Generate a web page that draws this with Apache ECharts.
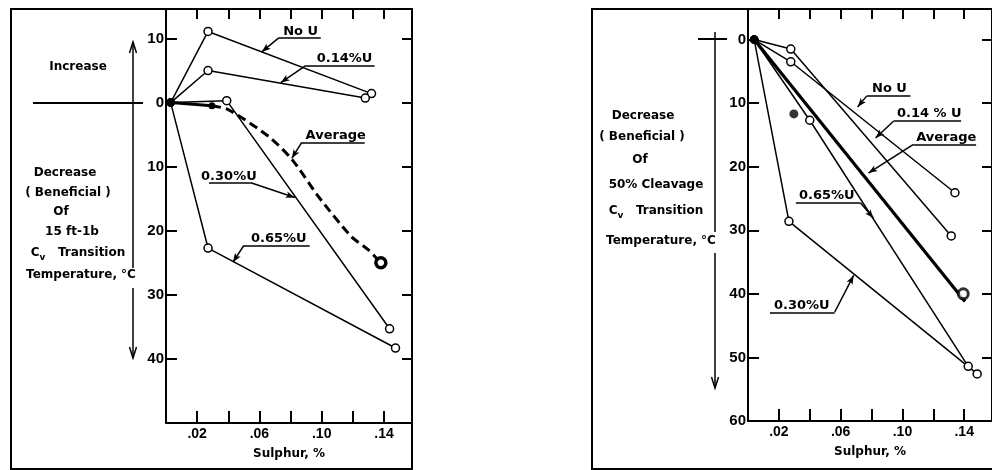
<!DOCTYPE html>
<html><head><meta charset="utf-8">
<script src="https://cdn.jsdelivr.net/npm/echarts@6/dist/echarts.min.js"></script>
<style>html,body{margin:0;padding:0;background:#fff}#c{width:992px;height:470px}</style>
</head><body><div id="c"></div>
<script>
// ---------- data ----------
const sulphurTicks = [0.02, 0.04, 0.06, 0.08, 0.10, 0.12, 0.14];
const sulphurLabels = [0.02, 0.06, 0.10, 0.14];
const leftYLabels = [-10, 0, 10, 20, 30, 40];
const rightYLabels = [0, 10, 20, 30, 40, 50, 60];
const rightYSideTicks = [0, 10, 20, 30, 40, 50];

// Left: decrease of 15 ft-lb Cv transition temperature, degC (negative = increase)
const L_noU   = [[0.003, 0], [0.027, -11.1], [0.132, -1.4]];
const L_u014  = [[0.003, 0], [0.027, -5.0], [0.128, -0.7]];
const L_u030  = [[0.003, 0], [0.039, -0.3], [0.1436, 35.3]];
const L_u065  = [[0.003, 0], [0.027, 22.7], [0.1474, 38.3]];
const L_avgStart = [[0.003, 0], [0.0295, 0.5]];
const L_avg   = [[0.0295, 0.5], [0.040, 1.1], [0.066, 5.3], [0.081, 8.9], [0.098, 14.7], [0.119, 20.9], [0.130, 23.0], [0.138, 25.0]];

// Right: decrease of 50% cleavage Cv transition temperature, degC
const R_noU   = [[0.004, 0], [0.0277, 3.5], [0.134, 24.1]];
const R_u014  = [[0.004, 0], [0.0277, 1.5], [0.1316, 30.9]];
const R_u030  = [[0.004, 0], [0.0265, 28.6], [0.1484, 52.6]];
const R_u065  = [[0.004, 0], [0.040, 12.7], [0.1426, 51.4]];
const R_avg   = [[0.004, 0], [0.1405, 41.2]];
const R_avgPts = [[0.0297, 11.7], [0.1394, 40.0]];

// annotation labels: text, text centre, underline, leader -> arrow tip (data units)
const leftNotes = [
  {t: 'No U',   tx: 0.0865, ty: -11.1, u: [0.0724, 0.0994, -10.1], from: [0.0724, -10.1], to: [0.0615, -7.9]},
  {t: '0.14%U', tx: 0.1147, ty: -6.8,  u: [0.0897, 0.134, -5.76],  from: [0.0897, -5.76], to: [0.0737, -3.1]},
  {t: 'Average',tx: 0.109,  ty: 5.1,   u: [0.0872, 0.1276, 6.2],   from: [0.0872, 6.2],   to: [0.0808, 8.7]},
  {t: '0.30%U', tx: 0.0404, ty: 11.5,  u: [0.0276, 0.0545, 12.5],  from: [0.0545, 12.5],  to: [0.0827, 14.8]},
  {t: '0.65%U', tx: 0.0724, ty: 21.3,  u: [0.050, 0.0923, 22.3],   from: [0.050, 22.3],   to: [0.043, 24.9]}
];
const rightNotes = [
  {t: 'No U',    tx: 0.0916, ty: 7.7,  u: [0.0768, 0.1052, 8.9],  from: [0.0768, 8.9],  to: [0.071, 10.6]},
  {t: '0.14 % U',tx: 0.1174, ty: 11.6, u: [0.0942, 0.138, 12.85], from: [0.0942, 12.85], to: [0.0826, 15.5]},
  {t: 'Average', tx: 0.1284, ty: 15.4, u: [0.1071, 0.1477, 16.5], from: [0.1071, 16.5], to: [0.078, 21.0]},
  {t: '0.65%U',  tx: 0.051,  ty: 24.6, u: [0.031, 0.0729, 25.7],  from: [0.0729, 25.7], to: [0.0813, 28.1]},
  {t: '0.30%U',  tx: 0.0348, ty: 41.8, u: [0.0142, 0.0561, 42.9], from: [0.0561, 42.9], to: [0.0684, 37.1]}
];

// ---------- styling ----------
const FONT = '"DejaVu Sans", sans-serif';
const NUMFONT = '"Liberation Sans", Arial, sans-serif';
const BLACK = '#000';
const xMax = 0.158;
const yRanges = [[-14.6, 50], [-4.8, 60]];
const fmtS = v => '.' + String(Math.round(v * 100)).padStart(2, '0');

const chart = echarts.init(document.getElementById('c'), null, {renderer: 'canvas'});

function xAxes(g) {
  const line = {onZero: false, lineStyle: {color: BLACK, width: 2}};
  return [
    {gridIndex: g, type: 'value', position: 'bottom', min: 0, max: xMax,
     axisLine: line,
     axisTick: {inside: true, length: 12, customValues: sulphurTicks, lineStyle: {color: BLACK, width: 2}},
     axisLabel: {customValues: sulphurLabels, formatter: fmtS, color: BLACK, fontFamily: NUMFONT, fontWeight: 'bold', fontSize: 14, margin: 4},
     splitLine: {show: false},
     name: 'Sulphur, %', nameLocation: 'middle', nameGap: 25,
     nameTextStyle: {color: BLACK, fontFamily: FONT, fontWeight: 'bold', fontSize: 12}},
    {gridIndex: g, type: 'value', position: 'top', min: 0, max: xMax,
     axisLine: line,
     axisTick: {inside: true, length: 10, customValues: sulphurTicks, lineStyle: {color: BLACK, width: 2}},
     axisLabel: {show: false}, splitLine: {show: false}}
  ];
}
function yAxes(g, labels, sideTicks) {
  const line = {onZero: false, lineStyle: {color: BLACK, width: 2}};
  return [
    {gridIndex: g, type: 'value', position: 'left', inverse: true, min: yRanges[g][0], max: yRanges[g][1],
     axisLine: line,
     axisTick: {inside: true, length: 11, customValues: labels, lineStyle: {color: BLACK, width: 2}},
     axisLabel: {customValues: labels, formatter: v => String(Math.abs(v)), color: BLACK, fontFamily: NUMFONT, fontWeight: 'bold', fontSize: 15, margin: 2},
     splitLine: {show: false}},
    {gridIndex: g, type: 'value', position: 'right', inverse: true, min: yRanges[g][0], max: yRanges[g][1],
     axisLine: line,
     axisTick: {inside: true, length: 10, customValues: sideTicks, lineStyle: {color: BLACK, width: 2}},
     axisLabel: {show: false}, splitLine: {show: false}}
  ];
}

const openMark = {symbol: 'circle', symbolSize: 8, itemStyle: {color: '#fff', borderColor: BLACK, borderWidth: 1.5}};
function withOrigin(data) {
  return data.map((p, i) => i === 0 ? {value: p, symbolSize: 7, itemStyle: {color: BLACK, borderColor: BLACK}} : {value: p});
}
function lineSeries(name, data, g, extra) {
  return Object.assign({
    name, type: 'line', xAxisIndex: 2 * g, yAxisIndex: 2 * g,
    data: withOrigin(data), symbol: 'circle', symbolSize: 8, showAllSymbol: true,
    itemStyle: {color: '#fff', borderColor: BLACK, borderWidth: 1.5},
    lineStyle: {color: BLACK, width: 1.5}, z: 3
  }, extra || {});
}
function notesMarkLine(notes) {
  const data = [];
  notes.forEach(n => {
    data.push([{coord: [n.u[0], n.u[2]]}, {coord: [n.u[1], n.u[2]]}]);
    data.push([{coord: n.from}, {coord: n.to, symbol: 'arrow', symbolSize: [5, 9]}]);
  });
  return {silent: true, animation: false, symbol: ['none', 'none'], precision: 6,
          lineStyle: {color: BLACK, width: 1.5, type: 'solid'}, label: {show: false},
          emphasis: {disabled: true}, data};
}

const series = [
  // left chart
  lineSeries('No U', L_noU, 0, {markLine: notesMarkLine(leftNotes)}),
  lineSeries('0.14%U', L_u014, 0),
  lineSeries('0.30%U', L_u030, 0),
  lineSeries('0.65%U', L_u065, 0),
  lineSeries('Average start', L_avgStart, 0, {
    data: L_avgStart.map(p => ({value: p})), symbol: 'circle', symbolSize: 7,
    itemStyle: {color: BLACK}, lineStyle: {color: BLACK, width: 3}}),
  lineSeries('Average', L_avg, 0, {
    data: L_avg.map((p, i) => i === L_avg.length - 1
      ? {value: p, symbol: 'circle', symbolSize: 10, itemStyle: {color: '#fff', borderColor: BLACK, borderWidth: 3.5}}
      : {value: p, symbol: 'none'}),
    smooth: 0.25, lineStyle: {color: BLACK, width: 3, type: [9, 5]}}),
  // right chart
  lineSeries('No U', R_noU, 1, {markLine: notesMarkLine(rightNotes)}),
  lineSeries('0.14 % U', R_u014, 1),
  lineSeries('0.30%U', R_u030, 1),
  lineSeries('0.65%U', R_u065, 1),
  lineSeries('Average', R_avg, 1, {
    data: R_avg.map(p => ({value: p})), symbol: 'none', lineStyle: {color: BLACK, width: 3.2}}),
  {name: 'Average points', type: 'scatter', xAxisIndex: 2, yAxisIndex: 2, z: 4,
   data: R_avgPts.map((p, i) => i === 0
     ? {value: p, symbolSize: 9, itemStyle: {color: BLACK}}
     : {value: p, symbolSize: 10, itemStyle: {color: '#fff', borderColor: BLACK, borderWidth: 3}})}
];

chart.setOption({
  animation: false,
  backgroundColor: '#fff',
  grid: [
    {left: 166, top: 9, width: 246, height: 414},
    {left: 748, top: 9, width: 246, height: 412}
  ],
  xAxis: [...xAxes(0), ...xAxes(1)],
  yAxis: [...yAxes(0, leftYLabels, leftYLabels), ...yAxes(1, rightYLabels, rightYSideTicks)],
  series
});

// ---------- annotations (text + decorations) ----------
const txt = (x, y, text, size, extra) => ({
  type: 'text', silent: true, z: 10,
  style: Object.assign({x, y, text, fill: BLACK, align: 'center', verticalAlign: 'middle',
    font: 'bold ' + (size || 12) + 'px ' + FONT}, extra || {})
});
const cvText = (x, y) => ({
  type: 'text', silent: true, z: 10,
  style: {x, y, text: '{c|C}{v|v}{c|   Transition}', align: 'center', verticalAlign: 'middle',
    rich: {c: {fontFamily: FONT, fontWeight: 'bold', fontSize: 12, fill: BLACK, color: BLACK},
           v: {fontFamily: FONT, fontWeight: 'bold', fontSize: 9, fill: BLACK, color: BLACK, padding: [9, 0, 0, 0]}}}
});
const seg = (pts, w) => ({type: 'polyline', silent: true, z: 10, shape: {points: pts}, style: {stroke: BLACK, lineWidth: w || 1.5, fill: null}});
const rect = (x, y, w, h) => ({type: 'rect', silent: true, z: 1, shape: {x, y, width: w, height: h}, style: {stroke: BLACK, lineWidth: 2, fill: null}});

const graphics = [
  rect(11, 9, 401, 460),
  rect(592, 9, 420, 460),
  // left side legend arrow
  seg([[33, 103], [143, 103]], 2),
  seg([[133, 42], [133, 268]]), seg([[133, 288], [133, 358]]),
  seg([[129.5, 53], [133, 42], [136.5, 53]]),
  seg([[129.5, 347], [133, 358], [136.5, 347]]),
  txt(78, 67, 'Increase'),
  txt(65, 173, 'Decrease'),
  txt(68, 193, '( Beneficial )'),
  txt(61, 212, 'Of'),
  txt(72, 232, '15 ft-1b'),
  cvText(78, 253),
  txt(81, 275, 'Temperature, °C'),
  // right side legend arrow
  seg([[698, 39], [727, 39]], 2),
  seg([[715, 32], [715, 232]]), seg([[715, 253], [715, 388]]),
  seg([[711.5, 377], [715, 388], [718.5, 377]]),
  txt(643, 116, 'Decrease'),
  txt(642, 137, '( Beneficial )'),
  txt(640, 160, 'Of'),
  txt(656, 185, '50% Cleavage'),
  cvText(656, 211),
  txt(661, 241, 'Temperature, °C')
];
[[leftNotes, 0], [rightNotes, 1]].forEach(([notes, g]) => {
  notes.forEach(n => {
    const p = chart.convertToPixel({xAxisIndex: 2 * g, yAxisIndex: 2 * g}, [n.tx, n.ty]);
    graphics.push(txt(p[0], p[1], n.t, 13));
  });
});
chart.setOption({graphic: graphics});
</script>
</body></html>
